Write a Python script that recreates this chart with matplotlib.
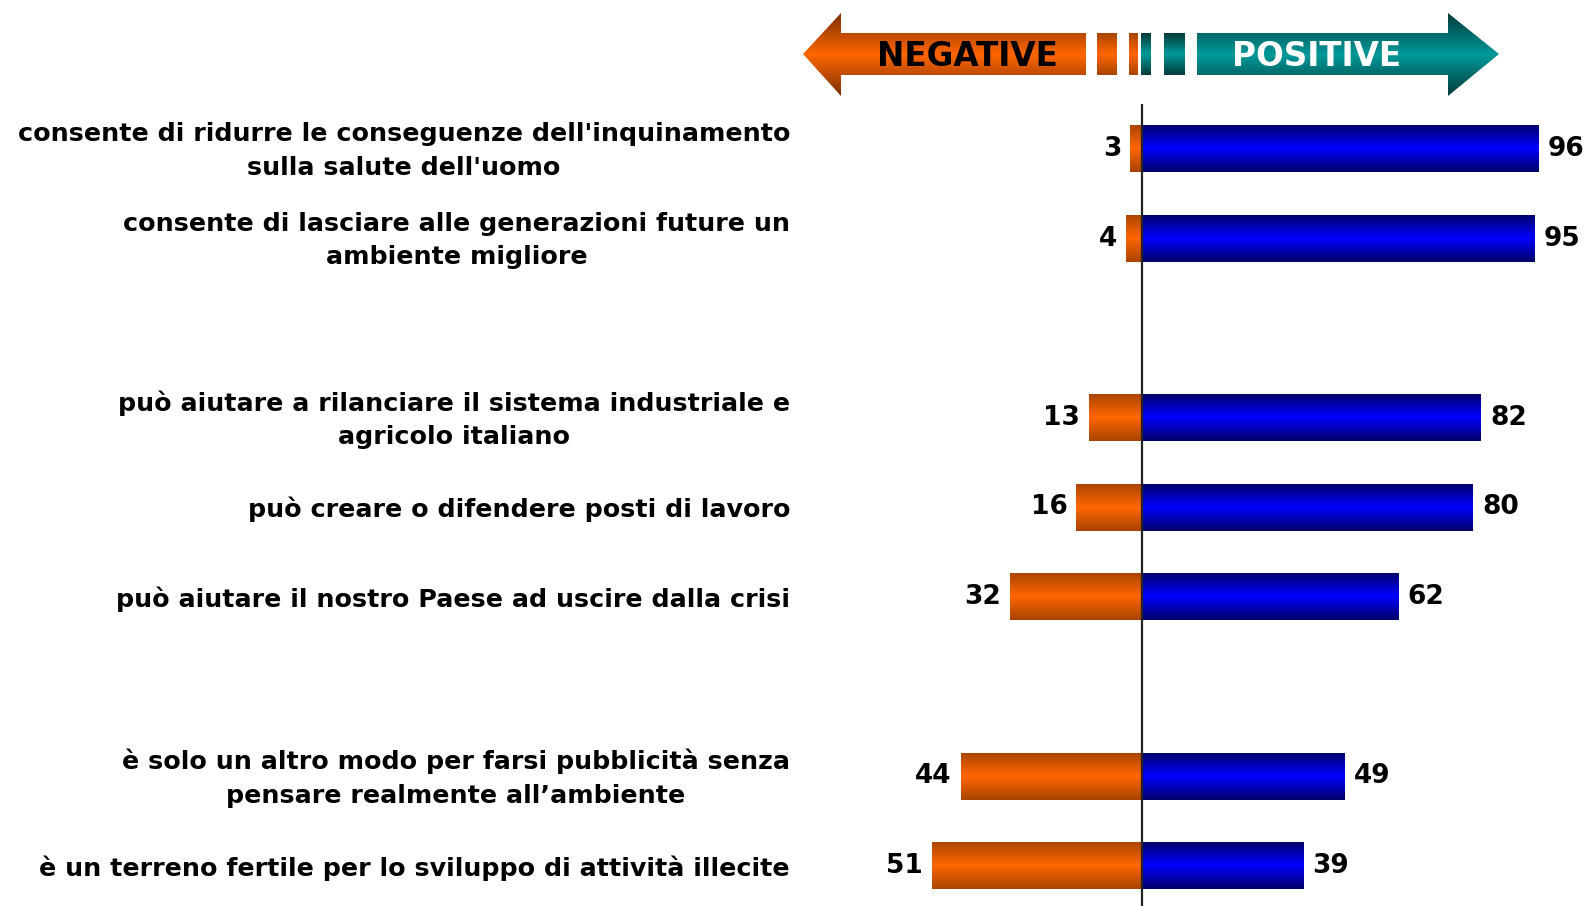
import numpy as np
import matplotlib.pyplot as plt
from matplotlib.patches import Polygon, Rectangle
from matplotlib.colors import LinearSegmentedColormap
import matplotlib.transforms as mtransforms

labels = [
    "consente di ridurre le conseguenze dell'inquinamento\nsulla salute dell'uomo",
    "consente di lasciare alle generazioni future un\nambiente migliore",
    "può aiutare a rilanciare il sistema industriale e\nagricolo italiano",
    "può creare o difendere posti di lavoro",
    "può aiutare il nostro Paese ad uscire dalla crisi",
    "è solo un altro modo per farsi pubblicità senza\npensare realmente all\u2019ambiente",
    "è un terreno fertile per lo sviluppo di attività illecite",
]
group_sizes = [2, 3, 2]
negative = [3, 4, 13, 16, 32, 44, 51]
positive = [96, 95, 82, 80, 62, 49, 39]

W, H = 1588, 906
fig = plt.figure(figsize=(W / 100, H / 100), dpi=100)

orange_cm = LinearSegmentedColormap.from_list("o", ["#a84400", "#ff6600", "#a84400"])
blue_cm = LinearSegmentedColormap.from_list("b", ["#000066", "#0000ff", "#000066"])
teal_cm = LinearSegmentedColormap.from_list("t", ["#003a3a", "#009999", "#003a3a"])
orange_arrow_cm = LinearSegmentedColormap.from_list("oa", ["#7a3000", "#ff6600", "#7a3000"])

grad = np.linspace(0, 1, 256).reshape(-1, 1)


def fill_gradient(ax, patch, cmap, extent):
    im = ax.imshow(grad, cmap=cmap, aspect="auto", extent=extent,
                   interpolation="bicubic", zorder=patch.get_zorder())
    im.set_clip_path(patch)
    patch.set_facecolor("none")


# row positions: groups separated by an empty slot
rows = []
pos = 0
for g in group_sizes:
    rows.extend(range(pos, pos + g))
    pos += g + 1
rows = np.array(rows, dtype=float)

# main axes
ax_top = 104
XL = (-85.35, 107.87)
YL = (8.449, -0.502)
ax = fig.add_axes([790 / W, 0, (W - 790) / W, (H - ax_top) / H])
ax.axis("off")

bh = 0.525
nb = ax.barh(rows, [-v for v in negative], height=bh, color="#ff6600", lw=0, zorder=2)
pb = ax.barh(rows, positive, height=bh, color="#0000ff", lw=0, zorder=2)
for p in nb:
    b = p.get_bbox()
    fill_gradient(ax, p, orange_cm, (b.x0, b.x1, b.y1, b.y0))
for p in pb:
    b = p.get_bbox()
    fill_gradient(ax, p, blue_cm, (b.x0, b.x1, b.y1, b.y0))
ax.set_xlim(*XL)
ax.set_ylim(*YL)
ax.axvline(0, color="#222222", lw=1.6, zorder=5)

off = mtransforms.ScaledTranslation(9 / 100, 0, fig.dpi_scale_trans)
for y, n, p in zip(rows, negative, positive):
    ax.text(-n, y, str(n), ha="right", va="center", fontsize=19, fontweight="bold",
            transform=ax.transData - off)
    ax.text(p, y, str(p), ha="left", va="center", fontsize=19, fontweight="bold",
            transform=ax.transData + off)

down = mtransforms.ScaledTranslation(0, -2 / 100, fig.dpi_scale_trans)
tr = mtransforms.blended_transform_factory(fig.transFigure, ax.transData) + down
for y, lab in zip(rows, labels):
    fig.text(790 / W, y, lab, ha="right", va="center", ma="center", fontsize=18.3,
             fontweight="bold", transform=tr, linespacing=1.5)

# header arrow
hdr = fig.add_axes([0, 0, 1, 1], zorder=0)
hdr.axis("off")
hdr.patch.set_alpha(0)

cy, ht, hb, bt, bb = 54, 13, 96, 33, 75
left_arrow = [(803, cy), (841, ht), (841, bt), (1086, bt), (1086, bb), (841, bb), (841, hb)]
right_arrow = [(1499, cy), (1448, ht), (1448, bt), (1197, bt), (1197, bb), (1448, bb), (1448, hb)]
shapes = [
    (Polygon(left_arrow, closed=True), orange_arrow_cm),
    (Rectangle((1097, bt), 20, bb - bt), orange_cm),
    (Rectangle((1129, bt), 9, bb - bt), orange_cm),
    (Rectangle((1141, bt), 10, bb - bt), teal_cm),
    (Rectangle((1164, bt), 21, bb - bt), teal_cm),
    (Polygon(right_arrow, closed=True), teal_cm),
]
for shp, cm in shapes:
    shp.set_linewidth(0)
    hdr.add_patch(shp)
    b = shp.get_path().get_extents(shp.get_patch_transform())
    is_arrow = isinstance(shp, Polygon)
    fill_gradient(hdr, shp, cm, (b.x0, b.x1, hb if is_arrow else bb, ht if is_arrow else bt))
hdr.set_xlim(0, W)
hdr.set_ylim(H, 0)

hdr.text(967, cy + 3, "NEGATIVE", ha="center", va="center", fontsize=23.5,
         fontweight="bold", color="black", family=["DejaVu Sans Condensed", "DejaVu Sans"])
hdr.text(1317, cy + 3, "POSITIVE", ha="center", va="center", fontsize=23.5,
         fontweight="bold", color="white", family=["DejaVu Sans Condensed", "DejaVu Sans"])

fig.savefig("out.png", dpi=100)
